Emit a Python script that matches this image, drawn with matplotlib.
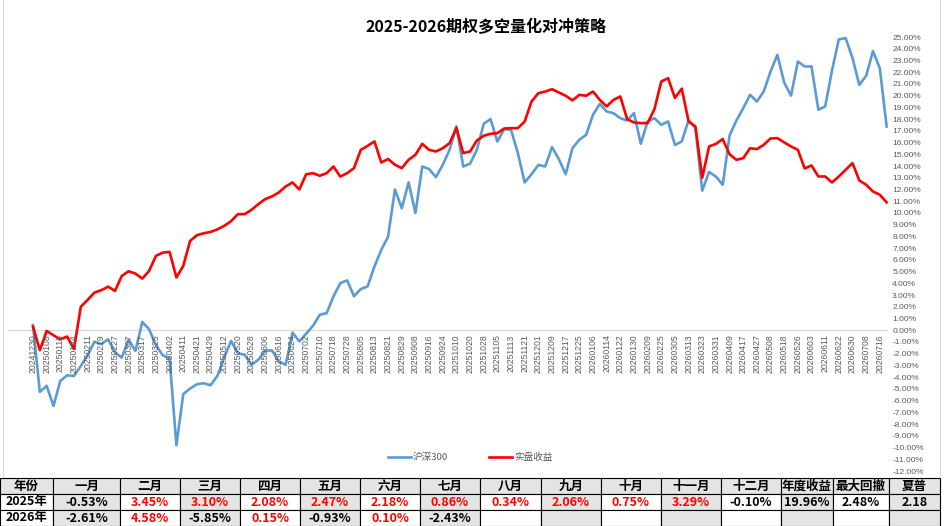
import matplotlib
matplotlib.use("Agg")
import matplotlib.pyplot as plt
import numpy as np
from matplotlib.ticker import FuncFormatter
from matplotlib.lines import Line2D

plt.rcParams['font.family'] = ['Noto Sans CJK SC', 'DejaVu Sans']
plt.rcParams['axes.unicode_minus'] = False

# ---- 数据 ----
title = "2025-2026期权多空量化对冲策略"
series_names = ["沪深300", "实盘收益"]

date_labels = [
    "20241230", "20250108", "20250116", "20250124", "20250211", "20250219", "20250227",
    "20250307", "20250317", "20250325", "20250402", "20250411", "20250421", "20250429",
    "20250512", "20250520", "20250528", "20250606", "20250616", "20250624", "20250702",
    "20250710", "20250718", "20250728", "20250805", "20250813", "20250821", "20250829",
    "20250908", "20250916", "20250924", "20251010", "20251020", "20251028", "20251105",
    "20251113", "20251121", "20251201", "20251209", "20251217", "20251225", "20260106",
    "20260114", "20260122", "20260130", "20260209", "20260225", "20260305", "20260313",
    "20260323", "20260331", "20260409", "20260417", "20260427", "20260508", "20260518",
    "20260526", "20260603", "20260611", "20260622", "20260630", "20260708", "20260716",
]

# 沪深300 累计收益 (%)
hs300 = [
    0.43, -5.26, -4.74, -6.45, -4.32, -3.84, -3.90, -3.05, -2.13, -0.97,
    -1.19, -0.77, -1.90, -2.33, -0.82, -1.76, 0.71, 0.09, -1.28, -2.13,
    -2.41, -9.80, -5.45, -4.97, -4.60, -4.52, -4.69, -3.89, -2.33, -0.91,
    -1.96, -2.09, -2.94, -2.51, -1.75, -1.72, -2.66, -2.94, -0.20, -0.95,
    -0.30, 0.38, 1.32, 1.46, 2.88, 4.02, 4.25, 2.90, 3.51, 3.74,
    5.44, 6.86, 7.99, 12.00, 10.40, 12.60, 10.00, 13.96, 13.74, 13.05,
    14.10, 15.38, 17.38, 13.96, 14.20, 15.38, 17.60, 18.00, 16.09, 17.14,
    17.09, 15.10, 12.60, 13.30, 14.10, 13.96, 15.61, 14.59, 13.30, 15.53,
    16.24, 16.66, 18.37, 19.30, 18.65, 18.51, 18.08, 17.88, 18.51, 15.90,
    17.80, 18.08, 17.51, 17.80, 15.80, 16.09, 17.90, 17.23, 11.90, 13.50,
    13.10, 12.40, 16.60, 17.88, 18.93, 20.07, 19.50, 20.35, 22.06, 23.48,
    21.12, 20.00, 22.91, 22.49, 22.49, 18.80, 19.08, 22.15, 24.80, 24.90,
    23.20, 20.92, 21.69, 23.80, 22.34, 17.37,
]

# 实盘收益 累计收益 (%)
live = [
    0.30, -1.70, -0.06, -0.43, -0.77, -0.54, -1.60, 2.00, 2.59, 3.21,
    3.41, 3.72, 3.35, 4.63, 5.03, 4.83, 4.40, 5.06, 6.34, 6.62,
    6.68, 4.50, 5.48, 7.61, 8.10, 8.27, 8.38, 8.60, 8.90, 9.30,
    9.90, 9.90, 10.27, 10.75, 11.18, 11.41, 11.75, 12.26, 12.60, 12.00,
    13.30, 13.39, 13.17, 13.39, 13.96, 13.10, 13.39, 13.82, 15.38, 15.72,
    16.10, 14.30, 14.60, 14.11, 13.82, 14.53, 14.96, 15.89, 15.38, 15.24,
    15.52, 15.95, 17.25, 15.10, 15.24, 16.18, 16.58, 16.75, 16.80, 17.20,
    17.23, 17.23, 17.80, 19.50, 20.21, 20.35, 20.55, 20.27, 19.99, 19.60,
    20.07, 19.99, 20.35, 19.64, 19.08, 19.64, 19.93, 18.00, 17.71, 17.66,
    17.66, 18.85, 21.21, 21.49, 19.80, 20.60, 17.80, 17.37, 13.00, 15.67,
    15.89, 16.30, 15.00, 14.53, 14.67, 15.52, 15.44, 15.81, 16.35, 16.38,
    16.01, 15.67, 15.38, 13.79, 14.05, 13.11, 13.11, 12.60, 13.11, 13.68,
    14.25, 12.77, 12.40, 11.83, 11.55, 10.90,
]

# 月度收益表
table_header = ["年份", "一月", "二月", "三月", "四月", "五月", "六月", "七月", "八月",
                "九月", "十月", "十一月", "十二月", "年度收益", "最大回撤", "夏普"]
years = ["2025年", "2026年"]
monthly_2025 = [-0.53, 3.45, 3.10, 2.08, 2.47, 2.18, 0.86, 0.34, 2.06, 0.75, 3.29, -0.10]
monthly_2026 = [-2.61, 4.58, -5.85, 0.15, -0.93, 0.10, -2.43]
annual_return = ["19.96%", ""]
max_drawdown = ["2.48%", ""]
sharpe = ["2.18", ""]

# ---- 画图 ----
W, H = 944, 526
fig = plt.figure(figsize=(W / 100, H / 100), dpi=100)


def px(l, t, r, b):
    return [l / W, 1 - b / H, (r - l) / W, (b - t) / H]


ax = fig.add_axes(px(8, 37, 888, 471))
x = np.arange(len(hs300))
ax.plot(x, hs300, color='#5B9BD5', lw=1.9, label=series_names[0], solid_joinstyle='round')
ax.plot(np.arange(len(live)), live, color='#FF0000', lw=1.9, label=series_names[1],
        solid_joinstyle='round')
ax.set_ylim(-12, 25)
ax.set_xlim(-3.66, 125.2)
ax.axhline(0, color='#D9D9D9', lw=0.9, zorder=0)
for s in ax.spines.values():
    s.set_visible(False)

ax.yaxis.tick_right()
ax.set_yticks(np.arange(-12, 26, 1))
ax.yaxis.set_major_formatter(FuncFormatter(lambda v, p: f"{v:.2f}%"))
ax.tick_params(axis='y', length=0, pad=3, labelsize=6, colors='#595959')
for lab in ax.get_yticklabels():
    lab.set_family('Liberation Sans')
ax.set_xticks([])

# 日期标签贴着 0 轴
for k, lab in enumerate(date_labels):
    ax.annotate(lab, (2 * k, 0), xytext=(0, -3), textcoords='offset points',
                rotation=90, ha='center', va='top', fontsize=6.2,
                color='#595959', family='Liberation Sans')

ax.legend(loc='center', bbox_to_anchor=(470 / W, 1 - 457.5 / H),
          bbox_transform=fig.transFigure, ncol=2, frameon=False, fontsize=6.9,
          handlelength=2.4, handletextpad=0.25, columnspacing=4.2,
          labelcolor='#595959')

fig.text(486 / W, 1 - 27 / H, title, ha='center', va='center',
         fontsize=11.5, fontweight='bold', color='black')

# 图表边框
fig.add_artist(Line2D([3 / W, 3 / W], [1 - 476 / H, 1], color='#D9D9D9', lw=0.8))
fig.add_artist(Line2D([940 / W, 940 / W], [1 - 476 / H, 1], color='#D9D9D9', lw=0.8))

# ---- 表格 ----
def fmt(v):
    return f"{v:.2f}%"

row1 = [years[0]] + [fmt(v) for v in monthly_2025] + [annual_return[0], max_drawdown[0], sharpe[0]]
row2 = ([years[1]] + [fmt(v) for v in monthly_2026]
        + [""] * (12 - len(monthly_2026)) + [annual_return[1], max_drawdown[1], sharpe[1]])
cells = [table_header, row1, row2]
monthly = [None, monthly_2025, monthly_2026]

col_px = [53, 67, 60, 60, 60, 60, 60, 60, 61, 60, 60, 60, 60, 52, 56, 51]
tax = fig.add_axes(px(0, 478, 940, 526))
tax.axis('off')
tbl = tax.table(cellText=cells, colWidths=[c / sum(col_px) for c in col_px],
                bbox=[0, 0, 1, 1], cellLoc='center')
tbl.auto_set_font_size(False)
gray = '#E4E4E4'
for (r, c), cell in tbl.get_celld().items():
    cell.set_edgecolor('black')
    cell.set_linewidth(0.8)
    if r == 0 or c % 2 == 1:
        cell.set_facecolor(gray)
    else:
        cell.set_facecolor('white')
    txt = cell.get_text()
    txt.set_fontsize(9)
    txt.set_fontweight('bold')
    color = 'black'
    if r > 0 and 1 <= c <= 12 and c - 1 < len(monthly[r]) and monthly[r][c - 1] > 0:
        color = '#FF0000'
    txt.set_color(color)

fig.savefig("out.png", dpi=100)
